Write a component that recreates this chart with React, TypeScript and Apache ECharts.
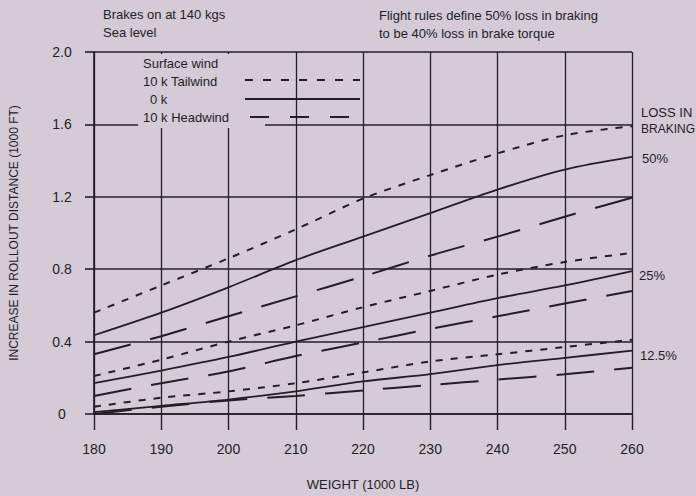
import React, { useEffect, useRef } from "react";
import * as echarts from "echarts";

const weights = [180, 190, 200, 210, 220, 230, 240, 250, 260];
const yTicks = [0, 0.4, 0.8, 1.2, 1.6, 2.0];

// 50% loss in braking
const tail50 = [0.56, 0.71, 0.86, 1.02, 1.19, 1.32, 1.44, 1.54, 1.59];
const calm50 = [0.435, 0.56, 0.7, 0.85, 0.98, 1.11, 1.24, 1.35, 1.42];
const head50 = [0.33, 0.43, 0.54, 0.65, 0.76, 0.875, 0.98, 1.09, 1.195];
// 25% loss in braking
const tail25 = [0.21, 0.3, 0.4, 0.49, 0.59, 0.68, 0.77, 0.84, 0.89];
const calm25 = [0.17, 0.24, 0.315, 0.4, 0.48, 0.56, 0.64, 0.71, 0.79];
const head25 = [0.1, 0.17, 0.235, 0.32, 0.395, 0.47, 0.54, 0.61, 0.68];
// 12.5% loss in braking
const tail12 = [0.04, 0.09, 0.125, 0.17, 0.23, 0.29, 0.33, 0.37, 0.41];
const calm12 = [0.01, 0.045, 0.08, 0.125, 0.18, 0.22, 0.27, 0.31, 0.35];
const head12 = [0.0, 0.04, 0.075, 0.1, 0.13, 0.16, 0.19, 0.22, 0.255];

const legendLabels = ["Surface wind", "10 k Tailwind", "0 k", "10 k Headwind"];
const lossLabels = ["50%", "25%", "12.5%"];

const BG = "#d4cbd6";
const INK = "#221e26";
const FONT = "'Liberation Sans', Arial, Helvetica, sans-serif";

const TAIL_DASH = [7, 8];
const HEAD_DASH = [38, 20];

type Kind = "tail" | "calm" | "head";

function mk(name: string, data: number[], kind: Kind) {
  return {
    name,
    type: "line",
    data: weights.map((w, i) => [w, data[i]]),
    smooth: 0.3,
    symbol: "none",
    lineStyle: {
      color: INK,
      width: kind === "calm" ? 1.8 : 2,
      type: kind === "tail" ? TAIL_DASH : kind === "head" ? HEAD_DASH : "solid",
    },
    z: 3,
  };
}

export default function App() {
  const ref = useRef<HTMLDivElement>(null);
  useEffect(() => {
    if (!ref.current) return;
    const chart = echarts.init(ref.current, undefined, { renderer: "svg" });
    const txt = (x: number, y: number, s: string, size = 13, align = "left") => ({
      type: "text",
      x,
      y,
      z: 20,
      style: {
        text: s,
        fill: INK,
        font: `${size}px ${FONT}`,
        textAlign: align,
        textVerticalAlign: "middle",
      },
    });
    chart.setOption({
      animation: false,
      backgroundColor: BG,
      textStyle: { fontFamily: FONT },
      grid: { left: 90, right: 64, top: 52, bottom: 76 },
      xAxis: {
        type: "value",
        min: 180,
        max: 260,
        interval: 10,
        name: "WEIGHT (1000 LB)",
        nameLocation: "middle",
        nameGap: 64,
        nameTextStyle: { color: INK, fontSize: 13, fontFamily: FONT },
        axisLine: { show: true, lineStyle: { color: INK, width: 1.6 } },
        axisTick: { show: true, length: 16, lineStyle: { color: INK, width: 1.4 } },
        axisLabel: { color: INK, fontSize: 14, margin: 28, fontFamily: FONT },
        splitLine: { show: true, lineStyle: { color: INK, width: 1.3 } },
      },
      yAxis: {
        type: "value",
        min: 0,
        max: 2.0,
        interval: 0.4,
        name: "INCREASE IN ROLLOUT DISTANCE (1000 FT)",
        nameLocation: "middle",
        nameGap: 74,
        nameTextStyle: { color: INK, fontSize: 12, fontFamily: FONT },
        axisLine: { show: true, lineStyle: { color: INK, width: 1.6 } },
        axisTick: { show: true, length: 9, lineStyle: { color: INK, width: 1.6 } },
        axisLabel: {
          color: INK,
          fontSize: 14,
          margin: 32,
          align: "center",
          fontFamily: FONT,
          formatter: (v: number) => {
            const t = yTicks.find((k) => Math.abs(k - v) < 1e-6);
            if (t === undefined) return "";
            return t === 0 ? "0" : t.toFixed(1);
          },
        },
        splitLine: { show: true, lineStyle: { color: INK, width: 1.6 } },
      },
      series: [
        mk("tail50", tail50, "tail"),
        mk("calm50", calm50, "calm"),
        mk("head50", head50, "head"),
        mk("tail25", tail25, "tail"),
        mk("calm25", calm25, "calm"),
        mk("head25", head25, "head"),
        mk("tail12", tail12, "tail"),
        mk("calm12", calm12, "calm"),
        mk("head12", head12, "head"),
      ],
      graphic: [
        {
          type: "rect",
          z: 10,
          shape: { x: 138, y: 54, width: 127, height: 74 },
          style: { fill: BG },
        },
        txt(103, 14, "Brakes on at 140 kgs"),
        txt(103, 32, "Sea level"),
        txt(379, 15, "Flight rules define 50% loss in braking"),
        txt(379, 33, "to be 40% loss in brake torque"),
        txt(143, 63, legendLabels[0]),
        txt(143, 81, legendLabels[1]),
        txt(150, 99, legendLabels[2]),
        txt(143, 117, legendLabels[3]),
        {
          type: "line",
          z: 20,
          shape: { x1: 245, y1: 80, x2: 360, y2: 80 },
          style: { stroke: INK, lineWidth: 2, lineDash: [8, 10] },
        },
        {
          type: "line",
          z: 20,
          shape: { x1: 245, y1: 99, x2: 360, y2: 99 },
          style: { stroke: INK, lineWidth: 1.8 },
        },
        {
          type: "line",
          z: 20,
          shape: { x1: 250, y1: 117, x2: 350, y2: 117 },
          style: { stroke: INK, lineWidth: 2, lineDash: [19, 21] },
        },
        txt(641, 112, "LOSS IN", 13),
        txt(641, 129, "BRAKING", 12),
        txt(642, 158, lossLabels[0]),
        txt(639, 275, lossLabels[1]),
        txt(640, 355, lossLabels[2]),
      ],
    });
    return () => chart.dispose();
  }, []);
  return (
    <div
      ref={ref}
      style={{ position: "absolute", left: 0, top: 0, width: 696, height: 496 }}
    />
  );
}
